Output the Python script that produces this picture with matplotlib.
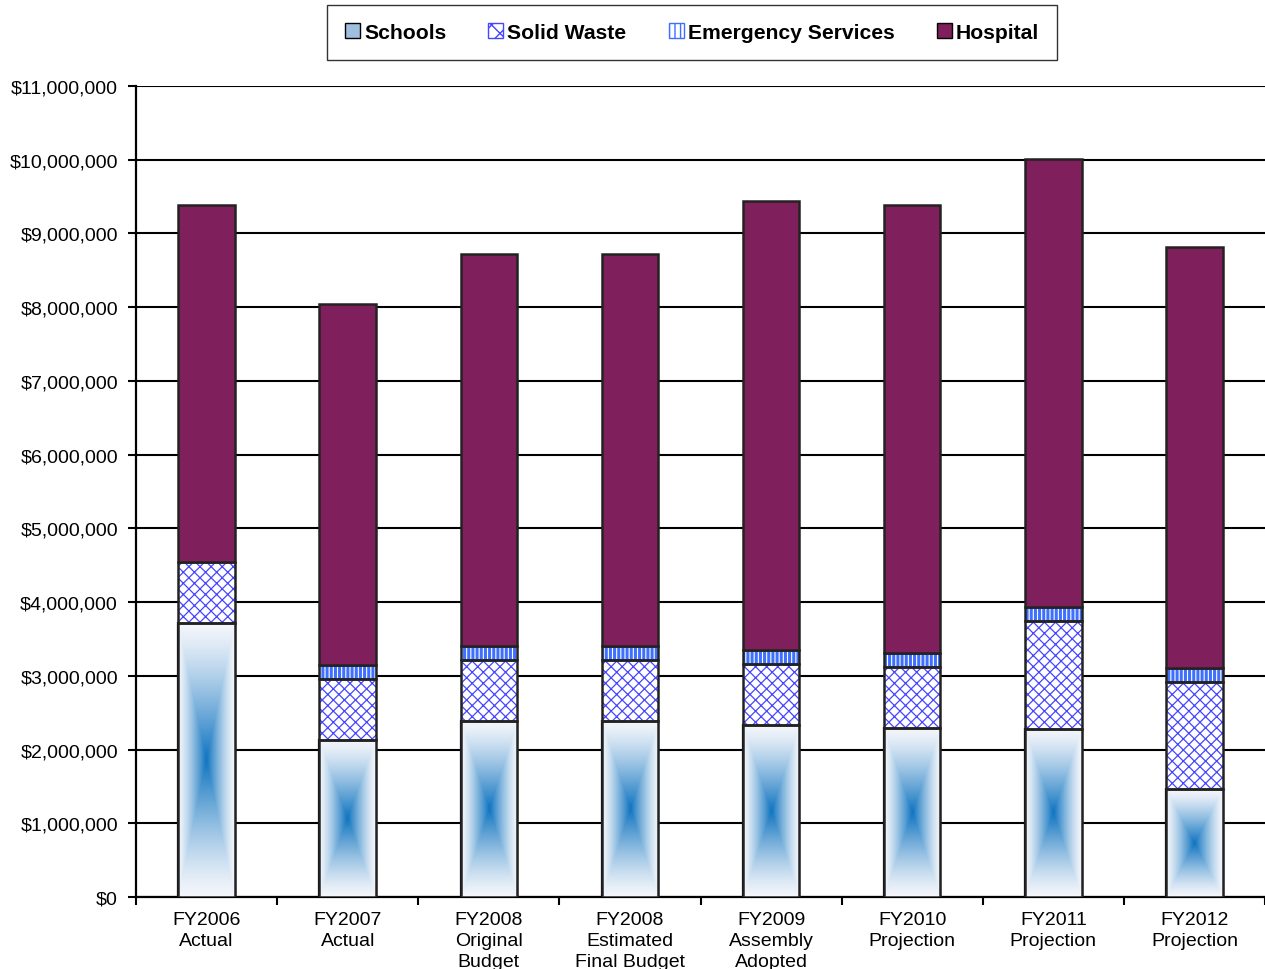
import numpy as np
import matplotlib
matplotlib.use("Agg")
import matplotlib.pyplot as plt
from matplotlib.patches import Patch
from matplotlib.ticker import FuncFormatter, FixedLocator

plt.rcParams['font.family'] = ['Liberation Sans', 'DejaVu Sans']

# data (dollars)
categories = ["FY2006\nActual", "FY2007\nActual", "FY2008\nOriginal\nBudget",
              "FY2008\nEstimated\nFinal Budget", "FY2009\nAssembly\nAdopted",
              "FY2010\nProjection", "FY2011\nProjection", "FY2012\nProjection"]
schools = [3720000, 2130000, 2390000, 2390000, 2330000, 2290000, 2280000, 1460000]
solid_waste = [830000, 830000, 820000, 820000, 830000, 830000, 1460000, 1460000]
emergency = [0, 190000, 190000, 190000, 190000, 190000, 190000, 190000]
hospital = [4840000, 4890000, 5320000, 5320000, 6090000, 6080000, 6080000, 5710000]

W, H = 1265, 970
fig = plt.figure(figsize=(W / 100, H / 100), dpi=100)
ax = fig.add_axes([136 / W, (970 - 898) / H, (1265 - 136) / W, (898 - 87) / H])

x = np.arange(len(categories))
bw = 0.4
maroon = '#7f1f5c'
blue_hatch = '#4646ff'
stripe = '#3f6fff'

# gradient for schools: rectangular "from centre" fill
n = 200
u = np.linspace(-1, 1, n)
uu, vv = np.meshgrid(u, u)
g = 1 - np.maximum(np.abs(uu), np.abs(vv))
c0 = np.array([0xf4, 0xf6, 0xfb]) / 255.0
c1 = np.array([0x0f, 0x74, 0xc0]) / 255.0
img = c0 + (c1 - c0) * (g ** 1.3)[..., None]

bars = ax.bar(x, schools, bw, color='white', edgecolor='black', linewidth=1.6, zorder=3)
for b in bars:
    x0, y0 = b.get_x(), b.get_y()
    im = ax.imshow(img, extent=[x0, x0 + b.get_width(), y0, y0 + b.get_height()],
                   aspect='auto', zorder=3.5, interpolation='bilinear')
    im.set_clip_path(b)
ax.bar(x, schools, bw, color='none', edgecolor='#222222', linewidth=1.8, zorder=4)

bottom = np.array(schools, dtype=float)
with plt.rc_context({'hatch.linewidth': 0.9}):
    ax.bar(x, solid_waste, bw, bottom=bottom, color='white', edgecolor=blue_hatch,
           hatch='xxx', linewidth=0, zorder=3)
ax.bar(x, solid_waste, bw, bottom=bottom, color='none', edgecolor='#222222',
       linewidth=1.8, zorder=4)
bottom += solid_waste

em_x = [xi for xi, v in zip(x, emergency) if v > 0]
em_v = [v for v in emergency if v > 0]
em_b = [b for b, v in zip(bottom, emergency) if v > 0]
with plt.rc_context({'hatch.linewidth': 2.2}):
    ax.bar(em_x, em_v, bw, bottom=em_b, color='white', edgecolor=stripe,
           hatch='||||', linewidth=0, zorder=3)
ax.bar(em_x, em_v, bw, bottom=em_b, color='none', edgecolor='#222222',
       linewidth=1.8, zorder=4)
bottom += emergency

ax.bar(x, hospital, bw, bottom=bottom, color=maroon, edgecolor='#222222',
       linewidth=1.8, zorder=4)

ax.set_xlim(-0.5, 7.5)
ax.set_ylim(0, 11000000)
ax.set_yticks(np.arange(0, 11000001, 1000000))
ax.yaxis.set_major_formatter(FuncFormatter(lambda v, p: "${:,.0f}".format(v)))
ax.yaxis.grid(True, color='black', linewidth=1.5, zorder=1)
ax.set_axisbelow(True)

ax.set_xticks(x)
ax.set_xticklabels(categories, fontsize=14, linespacing=1.3)
ax.xaxis.set_minor_locator(FixedLocator(np.arange(-0.5, 8.0, 1.0)))
ax.tick_params(axis='x', which='major', length=0, pad=10)
ax.tick_params(axis='x', which='minor', length=6, width=1.5, direction='out')
ax.tick_params(axis='y', length=6, width=1.5, labelsize=14, pad=7)

for s in ['top', 'right']:
    ax.spines[s].set_visible(False)
ax.spines['left'].set_linewidth(1.6)
ax.spines['bottom'].set_linewidth(1.6)

handles = [
    Patch(facecolor='#9fbfe0', edgecolor='black', linewidth=1, label='Schools'),
    Patch(facecolor='white', edgecolor=blue_hatch, hatch='xx', label='Solid Waste'),
    Patch(facecolor='white', edgecolor=stripe, hatch='|||', label='Emergency Services'),
    Patch(facecolor=maroon, edgecolor='black', linewidth=1, label='Hospital'),
]
leg = fig.legend(handles=handles, loc='center', bbox_to_anchor=(692 / W, 1 - 33.5 / H),
                 ncol=4, frameon=True, fancybox=False, edgecolor='black',
                 prop={'weight': 'bold', 'size': 15.2}, handlelength=0.7,
                 handleheight=0.7, handletextpad=0.2, columnspacing=2.0,
                 borderpad=0.85)
leg.get_frame().set_linewidth(1.0)

fig.savefig('out.png', dpi=100)
